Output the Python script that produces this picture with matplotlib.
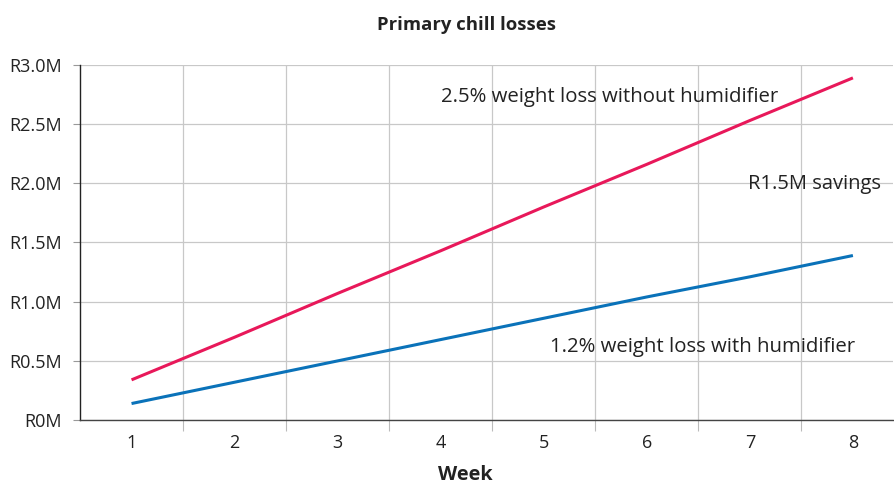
import matplotlib
matplotlib.use("Agg")
import matplotlib.pyplot as plt
from matplotlib.ticker import FixedLocator, FuncFormatter

plt.rcParams['font.family'] = ['Open Sans', 'DejaVu Sans']

# data (R millions)
weeks = [1, 2, 3, 4, 5, 6, 7, 8]
without_humidifier = [0.34, 0.70, 1.07, 1.43, 1.80, 2.16, 2.53, 2.89]
with_humidifier = [0.14, 0.32, 0.50, 0.68, 0.86, 1.04, 1.21, 1.39]
y_ticks = [0, 0.5, 1.0, 1.5, 2.0, 2.5, 3.0]

red = '#e8185a'
blue = '#0a72b9'
txt = '#222222'

fig = plt.figure(figsize=(8.94, 4.84), dpi=100)
ax = fig.add_axes([0.0895, 0.132, 0.9095, 0.734])

ax.plot(weeks, without_humidifier, color=red, lw=2.2, solid_capstyle='butt')
ax.plot(weeks, with_humidifier, color=blue, lw=2.2, solid_capstyle='butt')

ax.set_xlim(0.5, 8.39)
ax.set_ylim(0, 3.0)

# labels on whole weeks, ticks + grid between them
ax.set_xticks(weeks)
ax.xaxis.set_minor_locator(FixedLocator([w + 0.5 for w in weeks]))
ax.tick_params(axis='x', which='major', length=0, pad=10, labelsize=13, labelcolor=txt)
ax.tick_params(axis='x', which='minor', length=8, width=0.8, color='#bbbbbb')
ax.grid(True, axis='x', which='minor', color='#c8c8c8', lw=0.9)

ax.set_yticks(y_ticks)
ax.yaxis.set_major_formatter(FuncFormatter(lambda v, p: 'R0M' if v == 0 else 'R%.1fM' % v))
ax.tick_params(axis='y', length=5, width=0.8, color='#999999', pad=8, labelsize=13, labelcolor=txt)
ax.grid(True, axis='y', color='#c8c8c8', lw=0.9)
ax.set_axisbelow(True)

for s in ['top', 'right']:
    ax.spines[s].set_visible(False)
ax.spines['left'].set_color('#222222')
ax.spines['left'].set_linewidth(1.0)
ax.spines['bottom'].set_color('#444444')
ax.spines['bottom'].set_linewidth(1.0)

ax.text(5.64, 2.73, '2.5% weight loss without humidifier', ha='center', va='center', fontsize=14.7, color=txt)
ax.text(7.63, 1.99, 'R1.5M savings', ha='center', va='center', fontsize=14.5, color=txt)
ax.text(6.54, 0.62, '1.2% weight loss with humidifier', ha='center', va='center', fontsize=14.7, color=txt)

fig.text(0.522, 0.948, 'Primary chill losses', ha='center', va='center', fontsize=13.3, fontweight='bold', color=txt)
fig.text(0.521, 0.0186, 'Week', ha='center', va='center', fontsize=14.3, fontweight='bold', color=txt)

fig.savefig('out.png', dpi=100)
